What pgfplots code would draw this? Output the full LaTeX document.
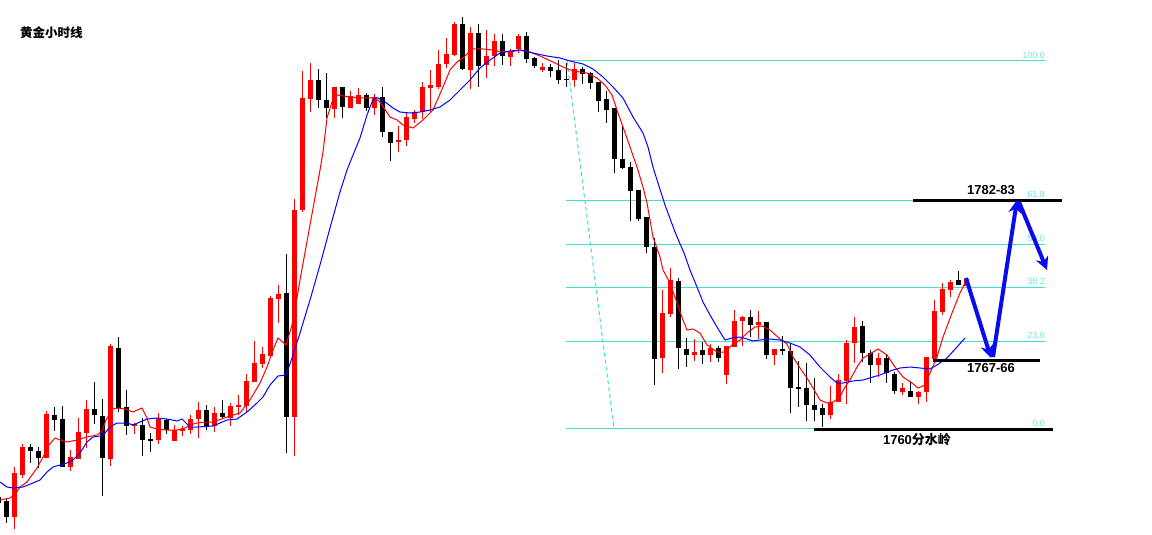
\documentclass[border=0pt]{standalone}
\usepackage{pgfplots}
\usepackage{pgfplotstable}
\pgfplotsset{compat=1.18}
\usetikzlibrary{arrows.meta}
\usepackage{fontspec}
\setmainfont{Liberation Sans}
\newfontfamily\cjk{Noto Sans CJK SC}
\definecolor{fib}{RGB}{64,224,208}
\definecolor{fibtxt}{RGB}{110,230,220}
\definecolor{arr}{RGB}{10,10,240}

% candles in chart pixel units: x, body top, body bottom, wick top, wick bottom
\pgfplotstableread{
x bt bb wt wb
14.3 473 517 467 529
22.3 447 475 444 478
46.3 414 458 411 458
70.3 457 467 450 471
78.3 432 459 418 459
86.3 409 433 400 448
110.3 346 459 344 466
134.3 424 426 423 434
158.3 418 440 413 444
174.3 430 441 425 441
182.3 429 431 426 436
190.3 419 430 415 434
198.3 410 419 402 438
214.3 413 426 407 432
230.3 406 418 403 426
238.3 405 407 395 415
246.3 381 406 374 413
254.3 363 382 341 382
262.3 354 364 347 368
270.3 298 356 296 358
278.3 294 299 285 323
294.3 210 417 199 456
302.3 98 210 71 212
310.3 80 99 63 112
334.3 87 109 87 118
350.3 96 108 91 108
358.3 95 104 88 104
374.3 97 108 94 115
398.3 140 142 126 152
406.3 117 140 113 146
414.3 112 119 110 123
422.3 87 112 82 119
430.3 85 88 70 113
438.3 64 87 50 89
446.3 54 64 38 68
454.3 24 55 22 56
470.3 33 70 27 89
486.3 56 65 30 78
494.3 41 56 34 66
510.3 52 57 49 66
518.3 36 49 34 53
542.3 67 70 63 72
574.3 69 80 63 87
662.3 313 358 290 373
670.3 280 314 268 317
694.3 352 355 339 361
710.3 348 355 344 362
726.3 346 375 346 384
734.3 321 347 310 347
742.3 317 321 316 346
758.3 322 325 311 339
774.3 349 355 349 365
830.3 402 415 386 419
838.3 380 402 374 402
846.3 343 381 340 404
854.3 327 343 317 363
878.3 358 365 353 377
902.3 388 392 383 395
918.3 392 397 391 404
926.3 357 392 357 402
934.3 311 359 300 359
942.3 289 312 283 315
950.3 282 290 280 297
966.3 279 286 279 286
}\redtab

\pgfplotstableread{
x bt bb wt wb
-1.7 497 503 495 505
6.3 501 517 498 523
30.3 447 451 444 463
38.3 451 458 447 468
54.3 415 420 407 431
62.3 419 467 406 467
94.3 409 415 382 424
102.3 416 458 399 496
118.3 348 408 337 412
126.3 407 426 390 435
142.3 425 440 418 456
150.3 439 440 433 452
166.3 420 430 419 434
206.3 410 427 405 430
222.3 413 417 400 418
286.3 293 417 254 453
318.3 80 100 69 108
326.3 100 108 73 118
342.3 87 107 87 118
366.3 95 108 93 111
382.3 97 132 87 137
390.3 132 143 132 161
462.3 24 69 17 70
478.3 33 66 24 87
502.3 41 56 34 65
526.3 36 59 32 63
534.3 58 66 57 68
550.3 67 71 64 77
558.3 70 80 60 84
566.3 79 80 63 87
582.3 69 74 67 84
590.3 73 83 72 89
598.3 82 101 82 112
606.3 99 110 91 123
614.3 108 159 108 173
622.3 159 168 126 169
630.3 167 191 162 221
638.3 190 219 190 221
646.3 217 247 217 253
654.3 247 359 238 385
678.3 281 348 278 369
686.3 349 355 338 367
702.3 350 355 342 364
718.3 348 358 346 362
750.3 317 325 310 337
766.3 322 355 322 359
782.3 349 351 336 355
790.3 351 388 343 413
798.3 387 389 361 407
806.3 388 405 363 421
814.3 405 410 378 421
822.3 408 415 404 427
862.3 326 353 321 362
870.3 353 365 350 383
886.3 358 373 355 383
894.3 374 391 372 394
910.3 391 397 382 397
958.3 280 285 271 285
}\blacktab

\begin{document}
\begin{tikzpicture}
\fill[white] (0,0) rectangle (1152pt,535pt);
\begin{axis}[
  at={(0,0)}, anchor=south west,
  width=1152pt, height=535pt, scale only axis,
  xmin=0, xmax=1152, ymin=0, ymax=535, y dir=reverse,
  hide axis, clip=true,
]
% Fibonacci levels
\addplot[fib, line width=1pt] coordinates {(566,60.5) (1045,60.5)};
\addplot[fib, line width=1pt] coordinates {(566,200) (1045,200)};
\addplot[fib, line width=1pt] coordinates {(566,244) (1045,244)};
\addplot[fib, line width=1pt] coordinates {(566,287) (1045,287)};
\addplot[fib, line width=1pt] coordinates {(566,341) (1045,341)};
\addplot[fib, line width=1pt] coordinates {(566,428.5) (1045,428.5)};
\addplot[fib, line width=1pt, dash pattern=on 4pt off 3pt] coordinates {(567,61) (614,428)};

% wicks
\addplot[draw=none, forget plot, error bars/.cd, y dir=plus, y explicit, error mark=none,
  error bar style={draw=red, line width=1pt, line cap=butt}]
  table[x=x, y=wt, y error expr=\thisrow{wb}-\thisrow{wt}] {\redtab};
\addplot[draw=none, forget plot, error bars/.cd, y dir=plus, y explicit, error mark=none,
  error bar style={draw=black, line width=1pt, line cap=butt}]
  table[x=x, y=wt, y error expr=\thisrow{wb}-\thisrow{wt}] {\blacktab};
% bodies
\addplot[draw=none, forget plot, error bars/.cd, y dir=plus, y explicit, error mark=none,
  error bar style={draw=red, line width=5pt, line cap=butt}]
  table[x=x, y=bt, y error expr={max(\thisrow{bb}-\thisrow{bt},1.5)}] {\redtab};
\addplot[draw=none, forget plot, error bars/.cd, y dir=plus, y explicit, error mark=none,
  error bar style={draw=black, line width=5pt, line cap=butt}]
  table[x=x, y=bt, y error expr={max(\thisrow{bb}-\thisrow{bt},1.5)}] {\blacktab};

% short moving average (red)
\addplot[red, line width=1pt] coordinates {
(0,500)(10,498)(16,493)(20,487)(27,482)(37,468)(43,457)(49,445)(55,438)(60,440)(67,442)(77,440)(87,437)(97,435)(102,431)(106,420)(113,409)(118,408)(125,409)(133,412)(142,408)(147,418)(150,427)(157,429)(167,430)(177,430)(185,428)(190,425)(197,423)(207,422)(213,422)(227,417)(240,413)(250,400)(260,383)(267,367)(273,350)(278,338)(286,345)(292,325)(297,298)(300,280)(310,225)(320,170)(323,152)(327,118)(332,102)(337,95)(350,97)(363,98)(375,98)(380,102)(390,117)(397,120)(403,125)(413,128)(423,120)(433,110)(443,87)(450,70)(457,62)(463,58)(472,49)(483,49)(493,50)(502,52)(510,52)(520,50)(530,52)(540,56)(553,62)(563,67)(573,71)(587,73)(597,78)(605,85)(612,95)(618,113)(623,127)(630,147)(637,167)(643,187)(647,203)(653,237)(660,257)(663,270)(670,283)(677,303)(683,320)(687,330)(693,329)(700,333)(707,345)(717,352)(725,352)(732,345)(740,340)(747,333)(755,327)(762,326)(770,330)(780,339)(787,344)(793,357)(800,368)(807,378)(813,388)(820,400)(827,403)(833,402)(840,397)(845,387)(850,380)(857,367)(863,358)(870,354)(878,349)(887,355)(895,367)(903,377)(912,383)(918,388)(925,385)(930,373)(937,357)(943,337)(952,313)(960,293)(966,281)};

% long moving average (blue)
\addplot[blue, line width=1pt] coordinates {
(0,482)(7,487)(13,488)(23,487)(33,483)(40,480)(47,472)(53,467)(60,465)(67,463)(73,460)(80,453)(87,442)(93,437)(100,436)(105,433)(110,427)(117,423)(127,423)(133,425)(140,422)(147,419)(157,418)(167,419)(177,421)(182,419)(185,422)(190,427)(197,427)(213,426)(227,420)(237,419)(247,412)(257,403)(263,397)(270,385)(278,376)(286,375)(292,358)(300,333)(310,300)(320,265)(330,228)(340,192)(347,170)(353,155)(360,138)(367,115)(372,102)(375,98)(378,98)(385,102)(393,108)(400,112)(410,113)(420,112)(430,110)(440,107)(450,100)(460,90)(470,80)(480,68)(490,60)(500,53)(510,51)(520,50)(533,53)(547,56)(560,58)(570,61)(583,64)(593,69)(603,77)(613,87)(623,98)(633,117)(643,133)(648,147)(653,167)(658,183)(665,205)(675,232)(684,253)(690,270)(697,287)(703,302)(710,315)(717,327)(725,340)(732,338)(740,337)(747,339)(753,341)(760,340)(770,339)(780,340)(790,343)(800,347)(810,355)(820,367)(830,377)(837,383)(843,383)(853,381)(863,380)(873,377)(880,375)(890,371)(900,368)(910,367)(920,368)(930,369)(937,365)(947,358)(957,347)(965,338)};

% key levels
\addplot[black, line width=3pt] coordinates {(913,200) (1062,200)};
\addplot[black, line width=3pt] coordinates {(933,360) (1040,360)};
\addplot[black, line width=3pt] coordinates {(814,429) (1053,429)};

% fib labels
\node[anchor=south east, inner sep=0pt, text=fibtxt, font=\fontsize{9pt}{9pt}\selectfont] at (1045,58.5) {100.0};
\node[anchor=south east, inner sep=0pt, text=fibtxt, font=\fontsize{9pt}{9pt}\selectfont] at (1045,198) {61.8};
\node[anchor=south east, inner sep=0pt, text=fibtxt, font=\fontsize{9pt}{9pt}\selectfont] at (1045,242) {50.0};
\node[anchor=south east, inner sep=0pt, text=fibtxt, font=\fontsize{9pt}{9pt}\selectfont] at (1045,285) {38.2};
\node[anchor=south east, inner sep=0pt, text=fibtxt, font=\fontsize{9pt}{9pt}\selectfont] at (1045,339) {23.6};
\node[anchor=south east, inner sep=0pt, text=fibtxt, font=\fontsize{9pt}{9pt}\selectfont] at (1045,426.5) {0.0};

% arrows
\draw[arr, line width=4pt, -{Stealth[length=13pt,width=13pt]}] (966,278) -- (991,358);
\draw[arr, line width=4pt, -{Stealth[length=13pt,width=13pt]}] (993,357) -- (1017,200);
\draw[arr, line width=4pt, -{Stealth[length=13pt,width=13pt]}] (1019,202) -- (1047,270);

% texts
\node[inner sep=0pt, font=\fontsize{13pt}{13pt}\selectfont\bfseries] at (991,190) {1782-83};
\node[inner sep=0pt, font=\fontsize{13pt}{13pt}\selectfont\bfseries] at (991,368) {1767-66};
\node[inner sep=0pt, font=\fontsize{13pt}{13pt}\selectfont\bfseries] at (917,440) {1760{\cjk\bfseries 分水岭}};
\node[anchor=west, inner sep=0pt, font=\fontsize{12.5pt}{12.5pt}\selectfont\bfseries\cjk] at (20,33) {黄金小时线};
\end{axis}
\pgfresetboundingbox
\path (0,0) rectangle (1152pt,535pt);
\end{tikzpicture}
\end{document}
